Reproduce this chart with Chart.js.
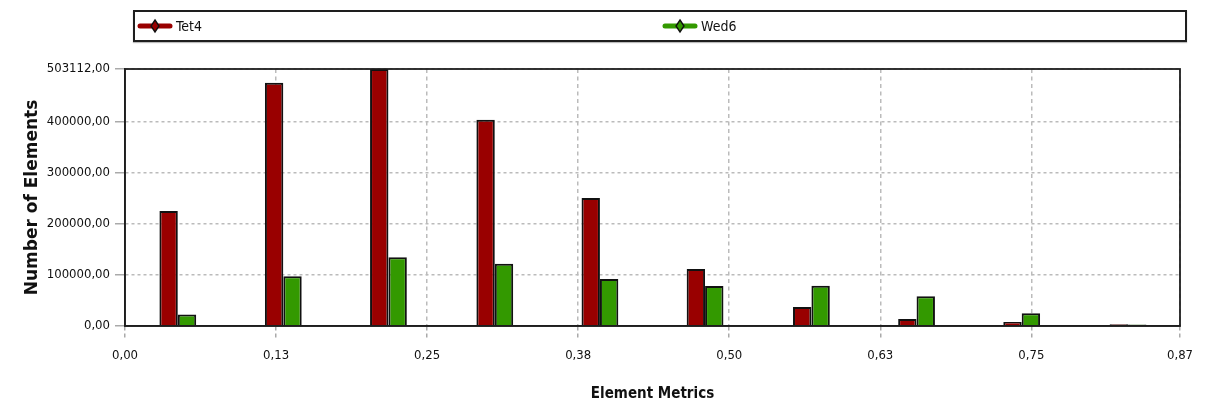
<!DOCTYPE html>
<html>
<head>
<meta charset="utf-8">
<script src="https://cdn.jsdelivr.net/npm/chart.js@4.4.0/dist/chart.umd.min.js"></script>
<style>
  html, body { margin:0; padding:0; background:#fff; }
  #wrap { position:relative; width:1221px; height:407px; }
  #legend { position:absolute; left:133px; top:10px; width:1050px; height:28px;
            border:2px solid #1e1e1e; box-shadow:0 1px 1px #bbb; background:#fff;
            font-family:"DejaVu Sans Condensed","DejaVu Sans",sans-serif; font-size:14px; color:#111; }
  .item { position:absolute; top:0; height:28px; display:flex; align-items:center; }
  .item svg { margin-right:3px; }
  canvas { position:absolute; left:0; top:0; }
</style>
</head>
<body>
<div id="wrap">
  <canvas id="c" width="1221" height="407"></canvas>
  <div id="legend"></div>
</div>
<script>
// ---- data ----
const binCenters = [0.0437, 0.131, 0.218, 0.306, 0.393, 0.480, 0.568, 0.655, 0.742, 0.830];
const tet4Values = [225000, 476000, 503112, 404000, 250600, 111600, 37400, 13800, 7900, 3500];
const wed6Values = [22300, 97400, 134600, 122000, 92000, 78200, 78700, 58400, 25000, 3000];
const seriesNames = ["Tet4", "Wed6"];
const seriesColors = ["#990000", "#339900"];
const xTickValues = [0, 0.125, 0.25, 0.375, 0.5, 0.625, 0.75, 0.873];
const xTickLabels = ["0,00", "0,13", "0,25", "0,38", "0,50", "0,63", "0,75", "0,87"];
const yTickValues = [0, 100000, 200000, 300000, 400000, 503112];
const xMax = 0.873;
const yMax = 503112;

// ---- legend (HTML) ----
const legend = document.getElementById('legend');
const legendLefts = [2, 527];
seriesNames.forEach((name, i) => {
  const d = document.createElement('div');
  d.className = 'item';
  d.style.left = legendLefts[i] + 'px';
  d.innerHTML = '<svg width="36" height="16" viewBox="0 0 36 16">' +
    '<line x1="3" y1="8" x2="33" y2="8" stroke="' + seriesColors[i] + '" stroke-width="5" stroke-linecap="round"/>' +
    '<polygon points="18,2 22,8 18,14 14,8" fill="' + seriesColors[i] + '" stroke="#111" stroke-width="1.4"/>' +
    '</svg><span>' + name + '</span>';
  legend.appendChild(d);
});

// ---- chart ----
const FONT = "'DejaVu Sans Condensed', 'DejaVu Sans', sans-serif";
const frame = {
  id: 'frame',
  afterDraw(chart) {
    const a = chart.chartArea, ctx = chart.ctx;
    ctx.save();
    ctx.strokeStyle = '#1e1e1e';
    ctx.lineWidth = 1.8;
    ctx.strokeRect(a.left, a.top, a.right - a.left, a.bottom - a.top);
    ctx.restore();
  }
};

new Chart(document.getElementById('c'), {
  type: 'bar',
  data: {
    datasets: seriesNames.map((name, i) => ({
      label: name,
      data: binCenters.map((x, k) => ({ x: x, y: (i === 0 ? tet4Values : wed6Values)[k] })),
      backgroundColor: seriesColors[i],
      borderColor: '#111111',
      borderWidth: 2,
      categoryPercentage: 0.35,
      barPercentage: 1.0
    }))
  },
  options: {
    responsive: false,
    animation: false,
    layout: { padding: { left: 0, top: 69, right: 41, bottom: 0 } },
    plugins: { legend: { display: false }, tooltip: { enabled: false } },
    scales: {
      x: {
        type: 'linear', min: 0, max: xMax, offset: false,
        afterFit(s) { s.height = 81; },
        afterBuildTicks(s) { s.ticks = xTickValues.map(v => ({ value: v })); },
        ticks: {
          autoSkip: false, maxRotation: 0, padding: 8, color: '#111',
          font: { family: FONT, size: 13 },
          callback: (v, idx) => xTickLabels[idx]
        },
        grid: { offset: false, color: '#bbbbbb', lineWidth: 1.5, tickLength: 14, tickColor: '#aaaaaa',
                tickBorderDash: [4, 3] },
        border: { display: true, color: '#1e1e1e', width: 1.5, dash: [4, 3.5] },
        title: { display: true, text: 'Element Metrics', color: '#111',
                 font: { family: FONT, size: 15, weight: 'bold' }, padding: { top: 0, bottom: 4 } }
      },
      y: {
        min: 0, max: yMax,
        afterFit(s) { s.width = 125; },
        afterBuildTicks(s) { s.ticks = yTickValues.map(v => ({ value: v })); },
        ticks: {
          padding: 5, color: '#111', font: { family: FONT, size: 13 },
          callback: v => Number(v).toFixed(2).replace('.', ',')
        },
        grid: { color: '#bbbbbb', lineWidth: 1.5, tickLength: 10, tickColor: '#aaaaaa',
                tickBorderDash: [] },
        border: { display: true, color: '#1e1e1e', width: 1.5, dash: [3, 3] },
        title: { display: true, text: 'Number of Elements', color: '#111',
                 font: { family: "'DejaVu Sans', sans-serif", size: 17, weight: 'bold' },
                 padding: { top: 22, bottom: 0 } }
      }
    }
  },
  plugins: [frame]
});
</script>
</body>
</html>
